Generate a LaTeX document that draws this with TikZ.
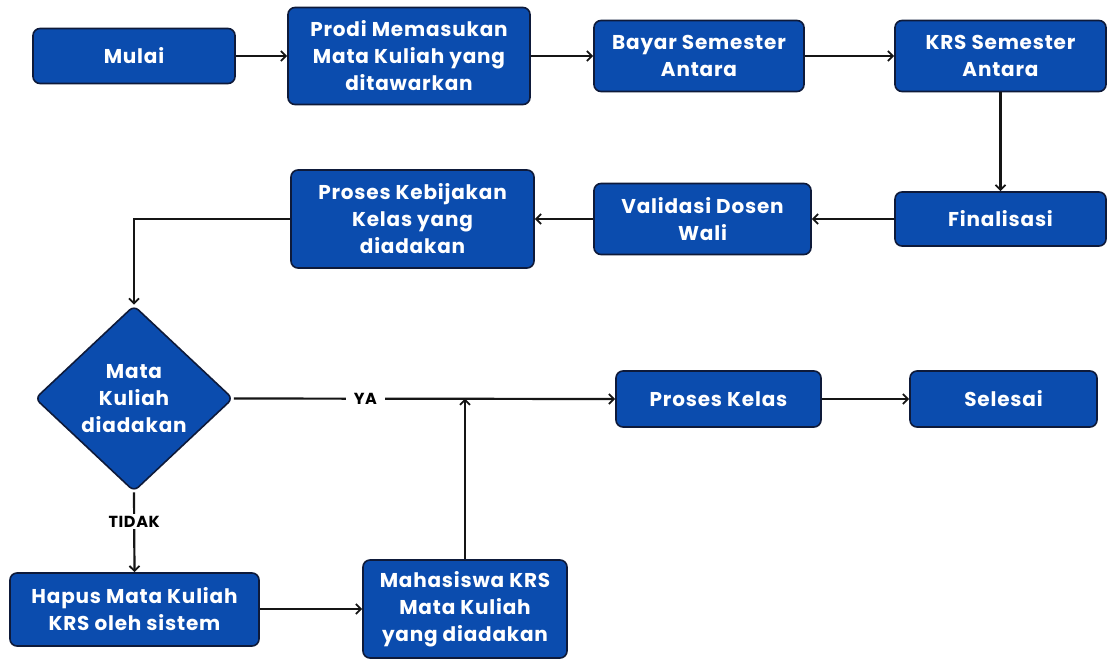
\documentclass[tikz,border=0pt]{standalone}
\usepackage{fontspec}
\setmainfont{Poppins}[LetterSpace=4]
\usetikzlibrary{shapes.geometric,arrows.meta}
\definecolor{boxblue}{HTML}{0B4CAE}
\definecolor{boxedge}{HTML}{0E1A3A}
\definecolor{linecol}{HTML}{151515}
\tikzset{
  box/.style={draw=boxedge, line width=1.6pt, fill=boxblue, rounded corners=7pt,
    text=white, font=\fontsize{20}{27}\selectfont\bfseries, align=center, inner sep=0pt},
  decision/.style={box, diamond, rounded corners=6pt, minimum width=198pt, minimum height=186pt},
  conn/.style={line width=2.2pt, draw=linecol, -{Straight Barb[length=5pt,width=10pt,line width=1.8pt]}},
  lbl/.style={fill=white, text=black, font=\fontsize{16}{18}\selectfont\bfseries, inner xsep=8pt, inner ysep=2pt}
}
\begin{document}
\begin{tikzpicture}[x=1pt,y=-1pt]
\useasboundingbox[fill=white] (0,0) rectangle (1107,659);
\node[box, minimum width=202pt, minimum height=55pt] (mulai) at (134,56) {Mulai};
\node[box, minimum width=242pt, minimum height=97pt] (prodi) at (409,56) {Prodi Memasukan\\Mata Kuliah yang\\ditawarkan};
\node[box, minimum width=210pt, minimum height=71pt] (bayar) at (699,56) {Bayar Semester\\Antara};
\node[box, minimum width=211pt, minimum height=71pt] (krs) at (1000.5,56) {KRS Semester\\Antara};
\node[box, minimum width=211pt, minimum height=54pt] (final) at (1000.5,219) {Finalisasi};
\node[box, minimum width=217pt, minimum height=71pt] (valid) at (702.5,219) {Validasi Dosen\\Wali};
\node[box, minimum width=243pt, minimum height=98pt] (keb) at (412.5,219) {Proses Kebijakan\\Kelas yang\\diadakan};
\node[decision] (dec) at (134,398.5) {Mata\\Kuliah\\diadakan};
\node[box, minimum width=205pt, minimum height=56pt] (kelas) at (718.5,399) {Proses Kelas};
\node[box, minimum width=187pt, minimum height=56pt] (selesai) at (1003.5,399) {Selesai};
\node[box, minimum width=249pt, minimum height=73pt] (hapus) at (134.5,609.5) {Hapus Mata Kuliah\\KRS oleh sistem};
\node[box, minimum width=204pt, minimum height=98pt] (mhs) at (465,609) {Mahasiswa KRS\\Mata Kuliah\\yang diadakan};

\draw[conn] (mulai) -- (prodi);
\draw[conn] (prodi) -- (bayar);
\draw[conn] (bayar) -- (krs);
\draw[conn] (krs) -- (final);
\draw[conn] (final) -- (valid);
\draw[conn] (valid) -- (keb);
\draw[conn] (keb.west) -| (dec.north);
\draw[conn] (dec.east) -- node[lbl, pos=0.345] {YA} (kelas.west);
\draw[conn] (mhs.north) -- (mhs.north |- dec.east);
\draw[conn] (kelas) -- (selesai);
\draw[conn] (dec.south) -- node[lbl, pos=0.37] {TIDAK} (hapus.north);
\draw[conn] (hapus.east |- mhs.west) -- (mhs.west);
\end{tikzpicture}
\end{document}
